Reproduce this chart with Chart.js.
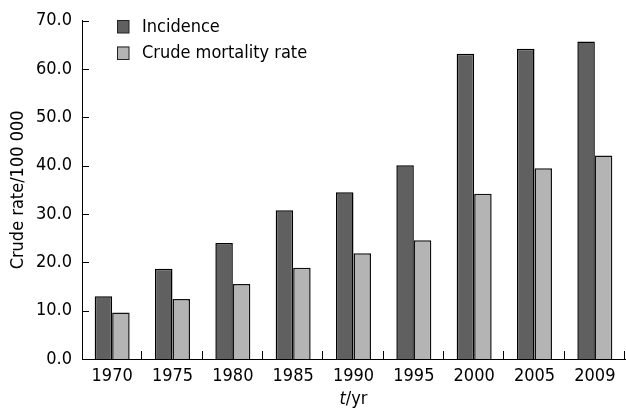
<!DOCTYPE html>
<html>
<head>
<meta charset="utf-8">
<script src="https://cdn.jsdelivr.net/npm/chart.js@4.4.1/dist/chart.umd.min.js"></script>
<style>
    html, body { margin: 0; padding: 0; background: #fff; }
    #wrap { width: 626px; height: 410px; }
</style>
</head>
<body>
<div id="wrap"><canvas id="chart"></canvas></div>
<script>
// ============================
// Data
// ============================
const years = ['1970', '1975', '1980', '1985', '1990', '1995', '2000', '2005', '2009'];
const incidence = [13.0, 18.7, 24.0, 30.8, 34.5, 40.1, 63.2, 64.2, 65.7];
const mortality = [9.6, 12.4, 15.5, 18.9, 21.9, 24.6, 34.2, 39.5, 42.1];
const yTicks = [0, 10, 20, 30, 40, 50, 60, 70];

const FONT = '"DejaVu Sans Condensed", "DejaVu Sans", sans-serif';
const SIZE = 18;

// inward tick marks, legend box and the x title with italic t
const decorations = {
    id: 'decorations',
    afterDraw(chart) {
        const { ctx, chartArea } = chart;
        const x = chart.scales.x;
        const y = chart.scales.y;
        ctx.save();
        ctx.strokeStyle = '#000';
        ctx.lineWidth = 1;
        ctx.beginPath();
        yTicks.forEach(v => {
            const py = Math.round(y.getPixelForValue(v)) + 0.5;
            ctx.moveTo(chartArea.left, py);
            ctx.lineTo(chartArea.left + 7, py);
        });
        const step = (x.right - x.left) / years.length;
        for (let i = 1; i <= years.length; i++) {
            const px = Math.round(x.left + step * i) - 0.5;
            ctx.moveTo(px, chartArea.bottom);
            ctx.lineTo(px, chartArea.bottom - 8);
        }
        ctx.stroke();

        // legend
        ctx.font = SIZE + 'px ' + FONT;
        ctx.textBaseline = 'middle';
        chart.data.datasets.forEach((ds, i) => {
            const top = 20 + i * 26.5;
            ctx.fillStyle = ds.backgroundColor;
            ctx.fillRect(117, top, 12, 13);
            ctx.strokeStyle = '#222';
            ctx.strokeRect(117.5, top + 0.5, 11.5, 12.5);
            ctx.fillStyle = '#000';
            ctx.fillText(ds.label, 142, top + 7);
        });

        // x title: italic t + /yr
        const cx = (chartArea.left + chartArea.right) / 2;
        ctx.textBaseline = 'alphabetic';
        ctx.font = 'italic ' + SIZE + 'px ' + FONT;
        const tW = ctx.measureText('t').width;
        ctx.font = SIZE + 'px ' + FONT;
        const rW = ctx.measureText('/yr').width;
        const start = cx - (tW + rW) / 2;
        ctx.font = 'italic ' + SIZE + 'px ' + FONT;
        ctx.fillText('t', start, 404);
        ctx.font = SIZE + 'px ' + FONT;
        ctx.fillText('/yr', start + tW, 404);
        ctx.restore();
    }
};

const chart = new Chart(document.getElementById('chart'), {
    type: 'bar',
    data: {
        labels: years,
        datasets: [{
            label: 'Incidence',
            data: incidence,
            backgroundColor: '#606060',
            borderColor: '#000',
            borderWidth: 1.5
        }, {
            label: 'Crude mortality rate',
            data: mortality,
            backgroundColor: '#b4b4b4',
            borderColor: '#111',
            borderWidth: 1.5
        }]
    },
    options: {
        responsive: true,
        maintainAspectRatio: false,
        animation: false,
        layout: {
            padding: { top: 19, right: 1, left: 0, bottom: 0 }
        },
        datasets: {
            bar: {
                categoryPercentage: 0.58,
                barPercentage: 1.0
            }
        },
        scales: {
            x: {
                grid: { display: false, drawTicks: false },
                border: { display: true, color: '#000', width: 1 },
                ticks: {
                    color: '#000',
                    padding: 7,
                    font: { family: FONT, size: SIZE }
                },
                afterFit(scale) { scale.height = 51; }
            },
            y: {
                min: 0,
                max: 70,
                grid: { display: false, drawTicks: false },
                border: { display: true, color: '#000', width: 1 },
                ticks: {
                    stepSize: 10,
                    color: '#000',
                    padding: 10,
                    font: { family: FONT, size: SIZE }
                    ,
                    callback: v => v.toFixed(1)
                },
                title: {
                    display: true,
                    text: 'Crude rate/100 000',
                    color: '#000',
                    padding: { top: 8, bottom: 0 },
                    font: { family: FONT, size: SIZE }
                },
                afterFit(scale) { scale.width = 82; }
            }
        },
        plugins: {
            legend: { display: false },
            tooltip: { enabled: false }
        }
    },
    plugins: [decorations]
});
</script>
</body>
</html>
